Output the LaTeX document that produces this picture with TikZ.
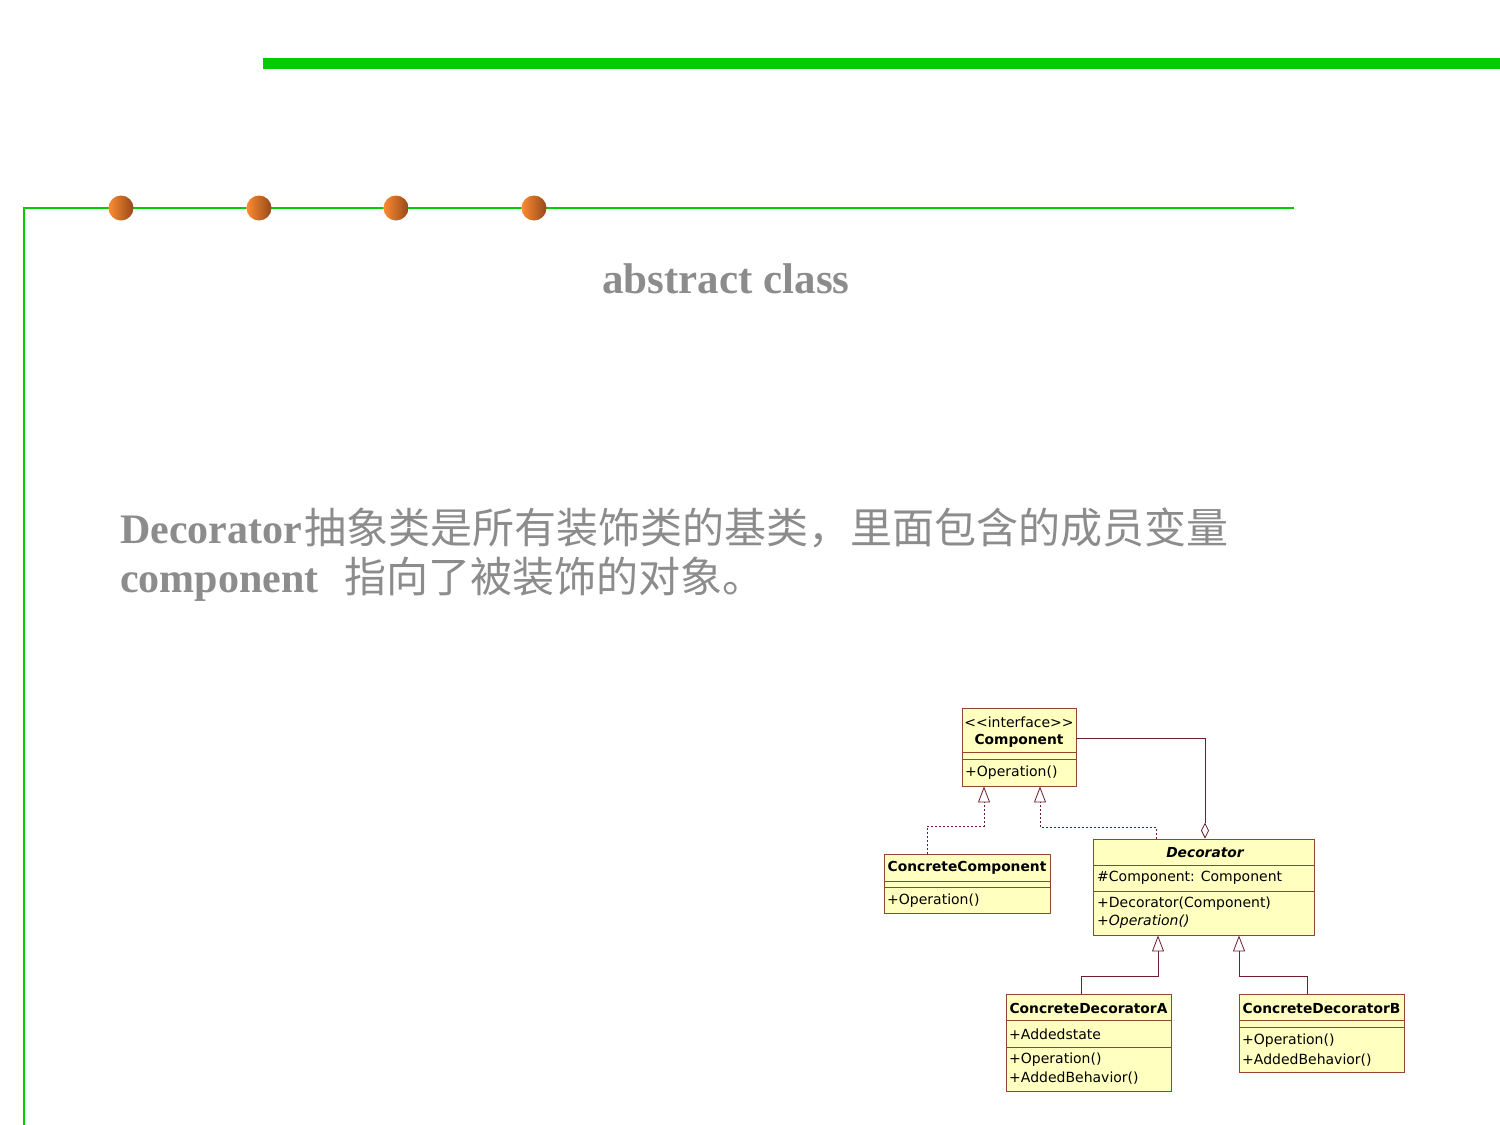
\documentclass[tikz,border=0pt]{standalone}
\usepackage{fontspec}
\setmainfont{Liberation Serif}
\newfontfamily\umlfont{DejaVu Sans}
\newfontfamily\cjk{Noto Sans CJK SC}
\usetikzlibrary{arrows.meta}

\definecolor{slidegreen}{RGB}{0,204,0}
\definecolor{dotlight}{RGB}{252,140,50}
\definecolor{dotdark}{RGB}{150,72,25}
\definecolor{textgray}{RGB}{140,140,140}
\definecolor{umlfill}{RGB}{255,255,192}
\definecolor{umlborder}{RGB}{145,70,50}
\definecolor{umlwire}{RGB}{110,30,45}

\tikzset{
  dotball/.style={circle, inner sep=0pt, minimum size=25pt, left color=dotlight, right color=dotdark},
  umlbox/.style={draw=umlborder, fill=umlfill, line width=0.9pt, inner sep=0pt, rectangle},
  umlsep/.style={draw=umlborder, line width=0.9pt},
  umltxt/.style={font=\umlfont\fontsize{14}{16}\selectfont, inner sep=0pt, anchor=west},
  umlname/.style={font=\umlfont\bfseries\fontsize{13.8}{16}\selectfont, inner sep=0pt},
  realize/.style={draw=umlwire, line width=0.8pt, dash pattern=on 2pt off 2pt,
    -{Triangle[open, length=16pt, width=12pt, line width=0.8pt]}},
  inherit/.style={draw=umlwire, line width=0.8pt,
    -{Triangle[open, length=16pt, width=12pt, line width=0.8pt]}},
  aggregate/.style={draw=umlwire, line width=0.8pt,
    -{Diamond[open, length=16pt, width=8pt, line width=0.8pt]}},
  bodytext/.style={text=textgray, inner sep=0pt, anchor=base west}
}

\begin{document}
\begin{tikzpicture}[x=1pt, y=-1pt]
  \useasboundingbox[fill=white] (0,0) rectangle (1500,1125);

  % header bar
  \fill[slidegreen] (263,58) rectangle (1500,69);

  % frame line with the four beads
  \draw[slidegreen, line width=2.5pt] (24,1125) -- (24,208) -- (1294,208);
  \node[dotball] (d1) at (121,208) {};
  \node[dotball] (d2) at (259,208) {};
  \node[dotball] (d3) at (396,208) {};
  \node[dotball] (d4) at (534,208) {};

  % heading
  \node[text=textgray, inner sep=0pt, font=\bfseries\fontsize{43}{50}\selectfont] (title) at (726,279) {abstract class};

  % body text
  \node[bodytext, font=\fontsize{42}{49}\selectfont] (body1) at (120,543)
    {\textbf{Decorator}\kern2pt{\cjk 抽象类是所有装饰类的基类，里面包含的成员变量}};
  \node[bodytext, font=\fontsize{42}{49}\selectfont] (body2) at (120,592)
    {\textbf{component}\hspace{26pt}{\cjk 指向了被装饰的对象。}};

  % ---------- UML class diagram ----------
  % Component
  \node[umlbox, minimum width=114pt, minimum height=78pt] (comp) at (1019,747) {};
  \draw[umlsep] (comp.west |- 0,752) -- (comp.east |- 0,752);
  \draw[umlsep] (comp.west |- 0,759) -- (comp.east |- 0,759);
  \node[umltxt, anchor=center] (compst) at (1019,722) {<{}<interface>{}>};
  \node[umlname] (compnm) at (1019,741) {Component};
  \node[umltxt] (compop) at (965,773) {+Operation()};

  % ConcreteComponent
  \node[umlbox, minimum width=166pt, minimum height=59pt] (cc) at (967,883.5) {};
  \draw[umlsep] (cc.west |- 0,881) -- (cc.east |- 0,881);
  \draw[umlsep] (cc.west |- 0,887) -- (cc.east |- 0,887);
  \node[umlname] (ccnm) at (967,868) {ConcreteComponent};
  \node[umltxt] (ccop) at (887,901) {+Operation()};

  % Decorator
  \node[umlbox, minimum width=221pt, minimum height=96pt] (dec) at (1203.5,887) {};
  \draw[umlsep] (dec.west |- 0,865) -- (dec.east |- 0,865);
  \draw[umlsep] (dec.west |- 0,891) -- (dec.east |- 0,891);
  \node[umlname, font=\umlfont\bfseries\itshape\fontsize{13.8}{16}\selectfont] (decnm) at (1205,853) {Decorator};
  \node[umltxt] (decat) at (1097,878) {\#Component: Component};
  \node[umltxt] (decct) at (1097,904) {+Decorator(Component)};
  \node[umltxt, font=\umlfont\itshape\fontsize{14}{16}\selectfont] (decop) at (1097,922) {+Operation()};

  % ConcreteDecoratorA
  \node[umlbox, minimum width=165pt, minimum height=97pt] (cda) at (1088.5,1042.5) {};
  \draw[umlsep] (cda.west |- 0,1020) -- (cda.east |- 0,1020);
  \draw[umlsep] (cda.west |- 0,1047) -- (cda.east |- 0,1047);
  \node[umlname] (cdanm) at (1088.5,1008) {ConcreteDecoratorA};
  \node[umltxt] (cdaat) at (1009,1034) {+Addedstate};
  \node[umltxt] (cdaop) at (1009,1060) {+Operation()};
  \node[umltxt] (cdabh) at (1009,1078) {+AddedBehavior()};

  % ConcreteDecoratorB
  \node[umlbox, minimum width=165pt, minimum height=78pt] (cdb) at (1321.5,1033) {};
  \draw[umlsep] (cdb.west |- 0,1020) -- (cdb.east |- 0,1020);
  \draw[umlsep] (cdb.west |- 0,1027) -- (cdb.east |- 0,1027);
  \node[umlname] (cdbnm) at (1321.5,1008) {ConcreteDecoratorB};
  \node[umltxt] (cdbop) at (1242,1041) {+Operation()};
  \node[umltxt] (cdbbh) at (1242,1060) {+AddedBehavior()};

  % relations
  \draw[realize] (cc.north -| 927,0) -- (927,826) -- (984,826) -- (comp.south -| 984,0);
  \draw[realize] (dec.north -| 1156,0) -- (1156,827) -- (1040,827) -- (comp.south -| 1040,0);
  \draw[aggregate] (comp.east |- 0,738) -- (1205,738) -- (dec.north -| 1205,0);
  \draw[inherit] (cda.north -| 1081,0) -- (1081,976) -- (1158,976) -- (dec.south -| 1158,0);
  \draw[inherit] (cdb.north -| 1307,0) -- (1307,976) -- (1239,976) -- (dec.south -| 1239,0);
\end{tikzpicture}
\end{document}
